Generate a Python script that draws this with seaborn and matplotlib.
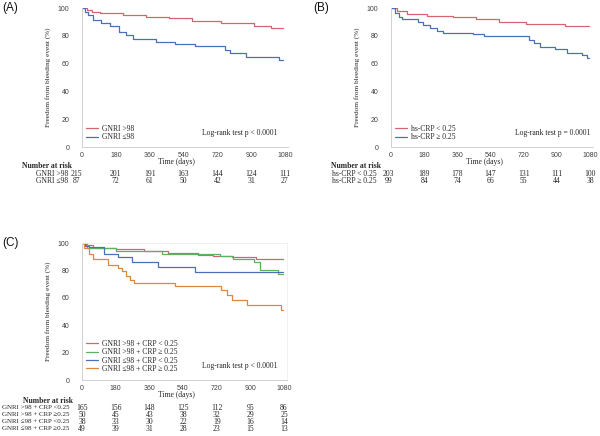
import numpy as np
import pandas as pd
import matplotlib
matplotlib.use("Agg")
import matplotlib.pyplot as plt
import matplotlib.transforms as mtransforms
from matplotlib.ticker import MultipleLocator
import seaborn as sns

sns.set_theme(style="white")
plt.rcParams['font.family'] = ['Liberation Sans', 'DejaVu Sans']

SERIF = ['Liberation Serif', 'DejaVu Serif']
SANS = ['Liberation Sans', 'DejaVu Sans']

# ---------------- data ----------------
time_ticks = [0, 180, 360, 540, 720, 900, 1080]

A_groups = ['GNRI >98', 'GNRI ≤98']
A_red_t = [0, 24, 51, 94, 217, 339, 461, 584, 741, 916, 1003, 1072]
A_red_s = [100, 98.6, 97.3, 96.2, 95.0, 93.8, 92.6, 90.9, 89.0, 87.0, 85.8, 85.8]
A_blue_t = [0, 16, 33, 59, 103, 147, 199, 234, 269, 392, 496, 601, 759, 785, 872, 1047, 1072]
A_blue_s = [100, 97.3, 95.0, 91.4, 89.0, 87.0, 83.0, 80.6, 77.5, 75.8, 74.1, 72.7, 69.8, 67.4, 65.0, 62.6, 62.6]
A_risk = [[215, 201, 191, 163, 144, 124, 111],
          [87, 72, 61, 50, 42, 31, 27]]
A_risk_labels = ['GNRI >98', 'GNRI ≤98']

B_groups = ['hs-CRP < 0.25', 'hs-CRP ≥ 0.25']
B_red_t = [0, 32, 86, 193, 337, 462, 587, 731, 946, 1075]
B_red_s = [100, 98.0, 95.7, 94.5, 93.3, 91.9, 90.2, 88.5, 87.0, 87.0]
B_blue_t = [0, 23, 41, 59, 149, 176, 211, 247, 283, 444, 507, 749, 775, 811, 892, 955, 1035, 1062, 1075]
B_blue_s = [100, 96.2, 93.8, 91.9, 90.2, 87.8, 85.4, 83.7, 82.3, 81.0, 79.9, 77.0, 74.6, 72.2, 70.3, 67.8, 66.2, 64.2, 64.2]
B_risk = [[203, 189, 178, 147, 131, 111, 100],
          [99, 84, 74, 66, 55, 44, 38]]
B_risk_labels = ['hs-CRP < 0.25', 'hs-CRP ≥ 0.25']

C_groups = ['GNRI >98 + CRP < 0.25', 'GNRI >98 + CRP ≥ 0.25',
            'GNRI ≤98 + CRP < 0.25', 'GNRI ≤98 + CRP ≥ 0.25']
C_red_t = [0, 20, 60, 180, 330, 460, 620, 700, 800, 930, 1072]
C_red_s = [100, 98.5, 96.5, 95.5, 94.5, 92.5, 91.5, 90.5, 89.5, 88.3, 88.3]
C_green_t = [0, 25, 180, 430, 740, 805, 920, 950, 1050, 1072]
C_green_s = [100, 96.0, 94.5, 92.3, 90.5, 88.3, 85.8, 80.0, 77.5, 77.5]
C_blue_t = [0, 15, 40, 115, 195, 265, 405, 605, 1072]
C_blue_s = [100, 98.0, 97.0, 92.0, 89.5, 86.0, 82.5, 78.5, 78.5]
C_orange_t = [0, 12, 40, 60, 140, 190, 215, 235, 255, 280, 495, 745, 775, 800, 880, 1065, 1072]
C_orange_s = [100, 96, 92, 88, 84, 82, 79.5, 76, 73, 70.7, 68.3, 66, 62, 58.5, 54.5, 51, 51]
C_risk = [[165, 156, 148, 125, 112, 95, 86],
          [50, 45, 43, 38, 32, 29, 25],
          [38, 33, 30, 22, 19, 16, 14],
          [49, 39, 31, 28, 23, 15, 13]]
C_risk_labels = ['GNRI >98 + CRP <0.25', 'GNRI >98 + CRP ≥0.25',
                 'GNRI ≤98 + CRP <0.25', 'GNRI ≤98 + CRP ≥0.25']

RED = '#d9626f'
BLUE = '#4a70b5'
GREEN = '#5db35d'
ORANGE = '#e0873c'
AXC = '#d0d0d0'
TXT = '#262626'

W, H = 600, 436
fig = plt.figure(figsize=(6, 4.36), dpi=100)


def px_axes(x0, x1, y0, y1):
    return fig.add_axes([x0 / W, 1 - y1 / H, (x1 - x0) / W, (y1 - y0) / H])


def make_df(groups, ts, ss):
    frames = []
    for g, t, s in zip(groups, ts, ss):
        frames.append(pd.DataFrame({'time': t, 'surv': s, 'group': g}))
    return pd.concat(frames, ignore_index=True)


def style_axes(ax, box=False):
    ax.set_xlim(0, 1096)
    ax.set_ylim(0, 100)
    ax.set_xticks(time_ticks)
    ax.xaxis.set_minor_locator(MultipleLocator(90))
    ax.yaxis.set_major_locator(MultipleLocator(20))
    ax.yaxis.set_minor_locator(MultipleLocator(10))
    for sp in ['top', 'right']:
        ax.spines[sp].set_visible(box)
        ax.spines[sp].set_color('#efefef')
        ax.spines[sp].set_linewidth(0.6)
    for sp in ['left', 'bottom']:
        ax.spines[sp].set_color(AXC)
        ax.spines[sp].set_linewidth(0.7)
    ax.tick_params(axis='both', which='both', direction='out', color=AXC,
                   width=0.6, labelsize=5, labelcolor='#404040')
    ax.tick_params(axis='x', which='both', length=2.5)
    ax.tick_params(axis='x', which='major', pad=0.8)
    ax.tick_params(axis='y', which='both', length=3)
    ax.tick_params(axis='y', which='major', pad=6)
    ax.set_xlabel('')
    ax.set_ylabel('Freedom from bleeding event (%)', fontsize=5.2,
                  family=SERIF, color=TXT, labelpad=5)
    ax.set_facecolor('white')


def risk_table(ax, labels, risk, y_time, y_nar, y_rows, x0px, first_shift=0, fs=5.5):
    tr = mtransforms.blended_transform_factory(ax.transData, fig.transFigure)
    ax.text(505, 1 - y_time / H, 'Time (days)', transform=tr, ha='center',
            va='center', fontsize=5.5, family=SERIF, color=TXT)
    ax.text((x0px - 60) / W, 1 - y_nar / H, 'Number at risk',
            transform=fig.transFigure, ha='left', va='center', fontsize=5.5,
            family=SERIF, weight='bold', color=TXT)
    for lab, row, yr in zip(labels, risk, y_rows):
        ax.text((x0px - 14) / W, 1 - yr / H, lab, transform=fig.transFigure,
                ha='right', va='center', fontsize=fs, family=SERIF, color=TXT)
        for i, (tt, v) in enumerate(zip(time_ticks, row)):
            xx = tt + (first_shift if i == 0 else 0)
            ax.text(xx, 1 - yr / H, str(v), transform=tr, ha='center',
                    va='center', fontsize=5.5, family=SERIF, color=TXT)


def km_panel(ax, groups, ts, ss, colors, logrank, lr_x, legend_y):
    df = make_df(groups, ts, ss)
    sns.lineplot(data=df, x='time', y='surv', hue='group', hue_order=groups,
                 palette=dict(zip(groups, colors)), estimator=None,
                 drawstyle='steps-post', linewidth=0.9, ax=ax, legend=True)
    leg = ax.legend(loc='lower left', bbox_to_anchor=(0.02, legend_y),
                    frameon=False, handlelength=1.6,
                    handletextpad=0.5, labelspacing=0.05, borderaxespad=0,
                    borderpad=0, prop={'family': SERIF, 'size': 5.5})
    for t in leg.get_texts():
        t.set_color(TXT)
    for l in leg.get_lines():
        l.set_linewidth(0.9)
    ax.text(lr_x, 0.10, logrank, transform=ax.transAxes, ha='right',
            va='center', fontsize=5.5, family=SERIF, color=TXT)


# Panel A
axA = px_axes(82, 288, 8, 147)
km_panel(axA, A_groups, [A_red_t, A_blue_t], [A_red_s, A_blue_s], [RED, BLUE],
         'Log-rank test p < 0.0001', 0.95, 0.04)
style_axes(axA)
risk_table(axA, A_risk_labels, A_risk, 161.5, 166, [173.5, 181], 82, first_shift=-30)
fig.text(2 / W, 1 - 8 / H, '(A)', fontsize=8.5, family=SANS, va='center', ha='left', color='#111')

# Panel B
axB = px_axes(391, 593, 8, 147)
km_panel(axB, B_groups, [B_red_t, B_blue_t], [B_red_s, B_blue_s], [RED, BLUE],
         'Log-rank test p = 0.0001', 0.985, 0.04)
style_axes(axB)
risk_table(axB, B_risk_labels, B_risk, 161.5, 166, [173.5, 181], 391, first_shift=-15)
fig.text(313 / W, 1 - 8 / H, '(B)', fontsize=8.5, family=SANS, va='center', ha='left', color='#111')

# Panel C
axC = px_axes(82, 287, 243, 380)
km_panel(axC, C_groups, [C_red_t, C_green_t, C_blue_t, C_orange_t],
         [C_red_s, C_green_s, C_blue_s, C_orange_s], [RED, GREEN, BLUE, ORANGE],
         'Log-rank test p < 0.0001', 0.955, 0.05)
style_axes(axC, box=True)
risk_table(axC, C_risk_labels, C_risk, 395, 401, [407.5, 414.5, 421.5, 428.5], 83, fs=5.0)
fig.text(2 / W, 1 - 243 / H, '(C)', fontsize=8.5, family=SANS, va='center', ha='left', color='#111')

fig.savefig('out.png', dpi=100, facecolor='white')
